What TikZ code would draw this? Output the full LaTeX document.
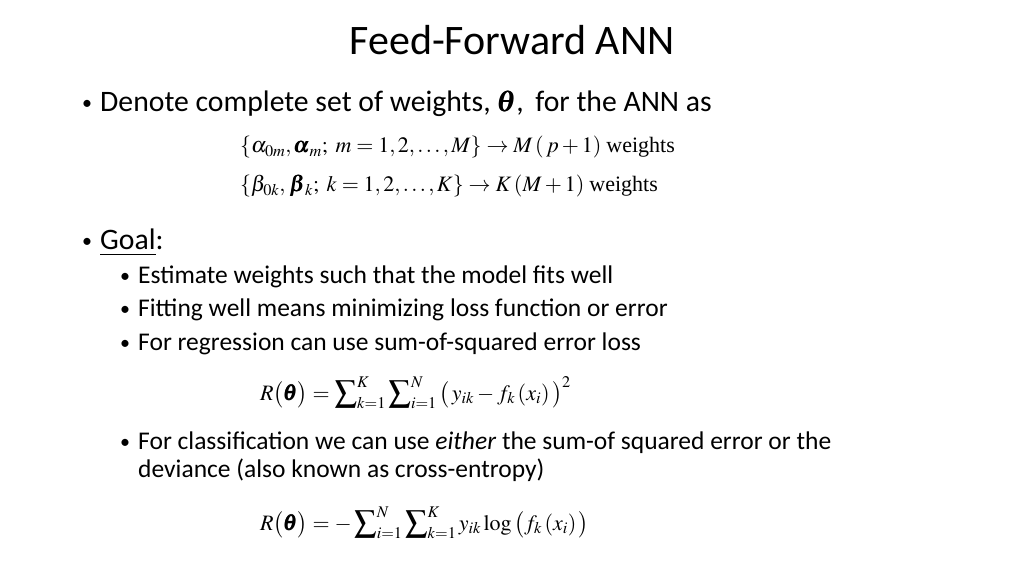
\documentclass[tikz,border=0pt]{standalone}
\usepackage{amsmath}
\usepackage{mathptmx}
\usepackage{fontspec}
\setmainfont{Carlito}
\newfontfamily\tms{Liberation Serif}
\newcommand{\bth}{\pmb{\theta}}
\begin{document}
\begin{tikzpicture}[x=1pt,y=1pt,
  body/.style={anchor=base west,inner sep=0,font=\fontsize{29.7}{34}\selectfont},
  sub/.style={anchor=base west,inner sep=0,font=\fontsize{25.5}{30}\selectfont},
  dot/.style={anchor=base west,inner sep=0,font=\fontsize{20}{24}\selectfont},
  eq/.style={anchor=base west,inner sep=0,font=\fontsize{22}{26}\selectfont}]
\useasboundingbox[fill=white] (0,0) rectangle (1024,576);
\node[anchor=base,inner sep=0,font=\fontsize{42}{48}\selectfont] (title) at (512,521) {Feed-Forward ANN};
\node[dot] (b1d) at (82,466) {•};
\node[body] (b1) at (100,464) {Denote complete set of weights, $\bth$,\, for the ANN as};
\node[eq] (e1) at (240,423) {$\left\{\alpha_{0m},\pmb{\alpha}_m;\ m=1,2,\ldots,M\right\}\rightarrow M\left(\,p+1\right)$ \tms weights};
\node[eq] (e2) at (240,384) {$\left\{\beta_{0k},\,\pmb{\beta}_k;\ k=1,2,\ldots,K\right\}\rightarrow K\left(M+1\right)$ \tms weights};
\node[dot] (b2d) at (82,328) {•};
\node[body] (b2) at (100,326) {\underline{Goal}:};
\node[dot] (s1d) at (120,293) {•};
\node[sub] (s1) at (138,292) {Estimate weights such that the model fits well};
\node[dot] (s2d) at (120,260) {•};
\node[sub] (s2) at (138,259) {Fitting well means minimizing loss function or error};
\node[dot] (s3d) at (120,227) {•};
\node[sub] (s3) at (138,226) {For regression can use sum-of-squared error loss};
\node[eq] (e3) at (260,176) {$\displaystyle R\big(\bth\big)=\sum\nolimits_{k=1}^{K}\sum\nolimits_{i=1}^{N}\big(\,y_{ik}-f_k\left(x_i\right)\big)^2$};
\node[dot] (s4d) at (120,128) {•};
\node[sub] (s4) at (138,127) {For classification we can use \textit{either} the sum-of squared error or the};
\node[sub] (s4b) at (138,99) {deviance (also known as cross-entropy)};
\node[eq] (e4) at (260,46) {$\displaystyle R\big(\bth\big)=-\sum\nolimits_{i=1}^{N}\sum\nolimits_{k=1}^{K}y_{ik}\log\big(f_k\left(x_i\right)\big)$};
\end{tikzpicture}
\end{document}
